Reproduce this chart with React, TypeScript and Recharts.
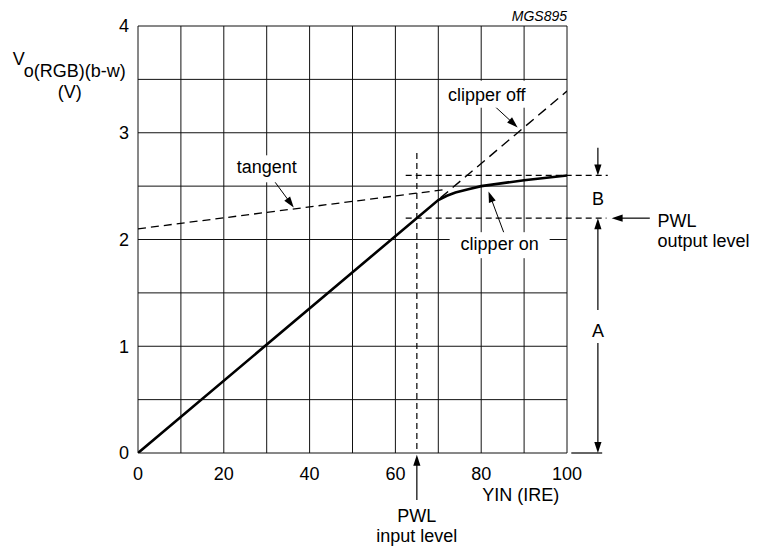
import React from 'react';
import { ComposedChart, Line, XAxis, YAxis, CartesianGrid, ReferenceLine, ReferenceDot } from 'recharts';

const xTicks = [0, 10, 20, 30, 40, 50, 60, 70, 80, 90, 100];
const yTicks = [0, 0.5, 1, 1.5, 2, 2.5, 3, 3.5, 4];

const curveX = [0, 70, 72, 74, 77, 80, 90, 100];
const curveY = [0, 2.37, 2.41, 2.44, 2.47, 2.5, 2.555, 2.6];
const tangentX = [0, 72];
const tangentY = [2.1, 2.47];
const clipOffX = [70.5, 100];
const clipOffY = [2.39, 3.39];

const pwlInput = 65;
const pwlOutput = 2.2;
const clipLevel = 2.6;

const toPts = (xs: number[], ys: number[]) => xs.map((x, i) => ({ x, y: ys[i] }));
const curveData = toPts(curveX, curveY);
const tangentData = toPts(tangentX, tangentY);
const clipOffData = toPts(clipOffX, clipOffY);

const FF = '"Liberation Sans", Arial, Helvetica, sans-serif';
const FS = 18;

type TxtOpts = {
  lines: string[];
  anchor?: 'start' | 'middle' | 'end';
  size?: number;
  italic?: boolean;
  gap?: number;
  bg?: { w: number; up: number; down: number };
};

const textShape = (o: TxtOpts) => (p: any) => {
  const { cx, cy } = p;
  const size = o.size ?? FS;
  const anchor = o.anchor ?? 'middle';
  const gap = o.gap ?? 20;
  return (
    <g>
      {o.bg && <rect x={cx - o.bg.w / 2} y={cy - o.bg.up} width={o.bg.w} height={o.bg.up + o.bg.down} fill="#fff" />}
      <text x={cx} y={cy} textAnchor={anchor} fontSize={size} fontFamily={FF} fontStyle={o.italic ? 'italic' : 'normal'} fill="#000">
        {o.lines.map((l, i) => (
          <tspan key={i} x={cx} dy={i === 0 ? 0 : gap}>
            {l}
          </tspan>
        ))}
      </text>
    </g>
  );
};

const yLabelShape = (p: any) => {
  const { cx, cy } = p;
  return (
    <g>
      <text x={cx} y={cy} fontSize={FS} fontFamily={FF} fill="#000">
        <tspan>V</tspan>
        <tspan dy={12}>o(RGB)(b-w)</tspan>
      </text>
      <text x={cx + 57} y={cy + 33} fontSize={FS} fontFamily={FF} fill="#000" textAnchor="middle">
        (V)
      </text>
    </g>
  );
};

const arrowShape = (opts: { head?: boolean; width?: number; dash?: string }) => (p: any) => {
  const { x1, y1, x2, y2 } = p;
  const head = opts.head ?? true;
  const dx = x2 - x1;
  const dy = y2 - y1;
  const len = Math.hypot(dx, dy) || 1;
  const ux = dx / len;
  const uy = dy / len;
  const L = 11;
  const W = 3.6;
  const bx = x2 - ux * L;
  const by = y2 - uy * L;
  const pts = `${x2},${y2} ${bx - uy * W},${by + ux * W} ${bx + uy * W},${by - ux * W}`;
  return (
    <g>
      <line
        x1={x1}
        y1={y1}
        x2={head ? bx + ux * 1 : x2}
        y2={head ? by + uy * 1 : y2}
        stroke="#000"
        strokeWidth={opts.width ?? 1.2}
        strokeDasharray={opts.dash}
      />
      {head && <polygon points={pts} fill="#000" />}
    </g>
  );
};

const fmtX = (v: number) => (v % 20 === 0 ? String(v) : '');
const fmtY = (v: number) => (Number.isInteger(v) ? String(v) : '');

export default function App() {
  return (
    <div style={{ position: 'absolute', left: 0, top: 0, background: '#fff' }}>
      <ComposedChart width={758} height={553} margin={{ top: 26, right: 191, bottom: 70, left: 98 }}>
        <CartesianGrid stroke="#111" strokeWidth={1} />
        <XAxis
          dataKey="x"
          type="number"
          domain={[0, 100]}
          ticks={xTicks}
          allowDataOverflow
          interval={0}
          tickFormatter={fmtX}
          axisLine={false}
          tickLine={false}
          tickSize={0}
          tickMargin={14}
          height={30}
          tick={{ fontSize: FS, fill: '#000', fontFamily: FF }}
        />
        <YAxis
          type="number"
          domain={[0, 4]}
          ticks={yTicks}
          allowDataOverflow
          interval={0}
          tickFormatter={fmtY}
          axisLine={false}
          tickLine={false}
          tickSize={0}
          tickMargin={9}
          width={40}
          tick={{ fontSize: FS, fill: '#000', fontFamily: FF }}
        />

        {/* dashed guides */}
        <ReferenceLine segment={[{ x: pwlInput, y: 2.81 }, { x: pwlInput, y: 0 }]} stroke="#000" strokeWidth={1.2} strokeDasharray="6 4" ifOverflow="visible" />
        <ReferenceLine segment={[{ x: 62.4, y: clipLevel }, { x: 109.5, y: clipLevel }]} stroke="#000" strokeWidth={1.2} strokeDasharray="6 4" ifOverflow="visible" />
        <ReferenceLine segment={[{ x: 62.4, y: pwlOutput }, { x: 109.2, y: pwlOutput }]} stroke="#000" strokeWidth={1.2} strokeDasharray="6 4" ifOverflow="visible" />

        <Line data={tangentData} dataKey="y" type="linear" stroke="#000" strokeWidth={1.3} strokeDasharray="8 5" dot={false} isAnimationActive={false} />
        <Line data={clipOffData} dataKey="y" type="linear" stroke="#000" strokeWidth={1.4} strokeDasharray="10 6" dot={false} isAnimationActive={false} />
        <Line data={curveData} dataKey="y" type="linear" stroke="#000" strokeWidth={2.6} dot={false} isAnimationActive={false} />

        {/* arrows */}
        <ReferenceLine segment={[{ x: pwlInput, y: -0.44 }, { x: pwlInput, y: -0.016 }]} ifOverflow="visible" shape={arrowShape({})} />
        <ReferenceLine segment={[{ x: 119.3, y: pwlOutput }, { x: 110.4, y: pwlOutput }]} ifOverflow="visible" shape={arrowShape({})} />
        <ReferenceLine segment={[{ x: 107.2, y: 2.86 }, { x: 107.2, y: clipLevel }]} ifOverflow="visible" shape={arrowShape({})} />
        <ReferenceLine segment={[{ x: 107.2, y: 1.34 }, { x: 107.2, y: pwlOutput }]} ifOverflow="visible" shape={arrowShape({})} />
        <ReferenceLine segment={[{ x: 107.2, y: 1.03 }, { x: 107.2, y: 0 }]} ifOverflow="visible" shape={arrowShape({})} />
        <ReferenceLine segment={[{ x: 101, y: 0 }, { x: 108.2, y: 0 }]} ifOverflow="visible" shape={arrowShape({ head: false })} />

        {/* text annotations */}
        <ReferenceDot x={30} y={2.62} ifOverflow="visible" shape={textShape({ lines: ['tangent'], bg: { w: 70, up: 18, down: 9 } })} />
        <ReferenceLine segment={[{ x: 31.9, y: 2.54 }, { x: 36.3, y: 2.3 }]} ifOverflow="visible" shape={arrowShape({ width: 1 })} />

        <ReferenceDot x={81.3} y={3.3} ifOverflow="visible" shape={textShape({ lines: ['clipper off'], bg: { w: 86, up: 20, down: 7 } })} />
        <ReferenceLine segment={[{ x: 83.1, y: 3.25 }, { x: 88.5, y: 3.05 }]} ifOverflow="visible" shape={arrowShape({ width: 1 })} />

        <ReferenceDot x={84.3} y={1.9} ifOverflow="visible" shape={textShape({ lines: ['clipper on'], bg: { w: 100, up: 18, down: 8 } })} />
        <ReferenceLine segment={[{ x: 85.5, y: 2.04 }, { x: 81.7, y: 2.45 }]} ifOverflow="visible" shape={arrowShape({ width: 1 })} />

        <ReferenceDot x={107.2} y={2.32} ifOverflow="visible" shape={textShape({ lines: ['B'] })} />
        <ReferenceDot x={107.2} y={1.087} ifOverflow="visible" shape={textShape({ lines: ['A'] })} />
        <ReferenceDot x={121.1} y={2.114} ifOverflow="visible" shape={textShape({ lines: ['PWL', 'output level'], anchor: 'start' })} />
        <ReferenceDot x={pwlInput} y={-0.651} ifOverflow="visible" shape={textShape({ lines: ['PWL', 'input level'] })} />
        <ReferenceDot x={89.2} y={-0.446} ifOverflow="visible" shape={textShape({ lines: ['YIN (IRE)'] })} />
        <ReferenceDot x={100} y={4.05} ifOverflow="visible" shape={textShape({ lines: ['MGS895'], anchor: 'end', size: 14, italic: true })} />
        <ReferenceDot x={-29.2} y={3.63} ifOverflow="visible" shape={yLabelShape} />
      </ComposedChart>
    </div>
  );
}
